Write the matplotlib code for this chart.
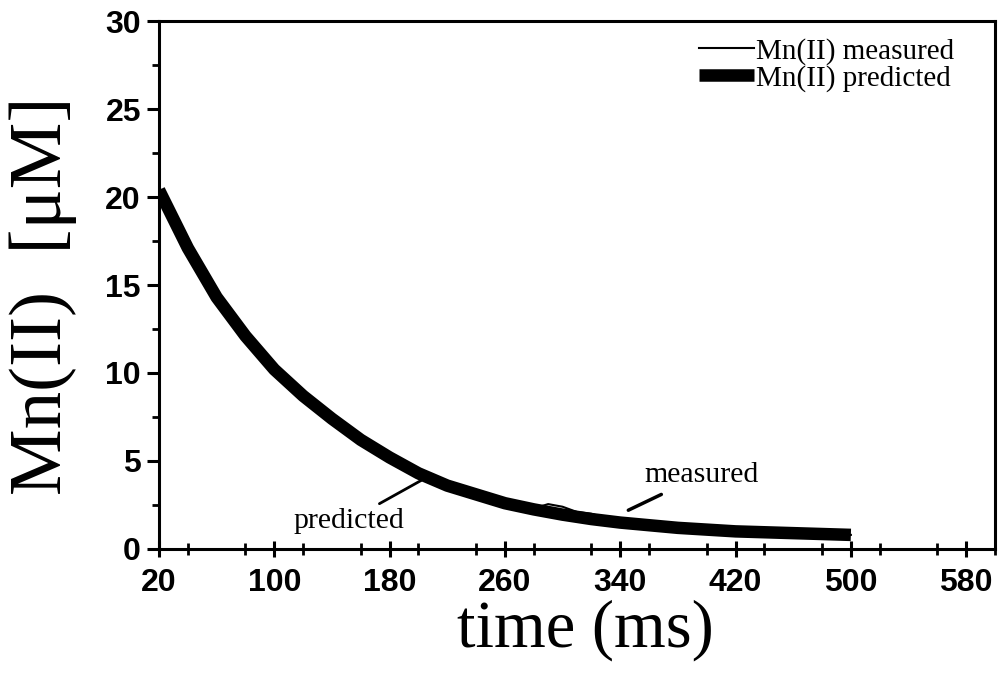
import matplotlib.pyplot as plt
from matplotlib.ticker import MultipleLocator

# predicted curve (every 20 ms)
t_pred = [20, 40, 60, 80, 100, 120, 140, 160, 180, 200, 220, 240, 260,
          280, 300, 320, 340, 360, 380, 400, 420, 440, 460, 480, 500]
mn_pred = [20.4, 17.1, 14.3, 12.1, 10.2, 8.7, 7.4, 6.2, 5.2, 4.3, 3.6, 3.1, 2.6,
           2.25, 1.95, 1.7, 1.5, 1.35, 1.2, 1.1, 1.0, 0.95, 0.9, 0.85, 0.8]

# measured curve (every 10 ms)
t_meas = [20, 30, 40, 50, 60, 70, 80, 90, 100, 110, 120, 130, 140, 150, 160,
          170, 180, 190, 200, 210, 220, 230, 240, 250, 260, 270, 280, 290, 300,
          310, 320, 330, 340, 350, 360, 370, 380, 390, 400, 410, 420, 430, 440,
          450, 460, 470, 480, 490, 500]
mn_meas = [20.6, 18.9, 17.2, 15.6, 14.4, 13.1, 12.1, 11.1, 10.3, 9.4, 8.7, 8.0,
           7.4, 6.8, 6.2, 5.7, 5.2, 5.0, 4.0, 3.8, 3.6, 3.3, 3.1, 2.85, 2.6,
           2.45, 2.3, 2.55, 2.4, 2.1, 2.0, 1.75, 1.6, 1.45, 1.35, 1.3, 1.2, 1.15,
           1.1, 1.0, 0.8, 1.0, 0.95, 0.9, 0.95, 1.1, 0.85, 0.8, 0.8]

x_ticks = [20, 100, 180, 260, 340, 420, 500, 580]
y_ticks = [0, 5, 10, 15, 20, 25, 30]

serif = "Liberation Serif"
sans = "Liberation Sans"

fig = plt.figure(figsize=(10, 6.74), dpi=100)
ax = fig.add_axes([0.159, 0.1855, 0.836, 0.7833])

ax.plot(t_meas, mn_meas, color="black", lw=1.5, label="Mn(II) measured", zorder=3)
ax.plot(t_pred, mn_pred, color="black", lw=9, label="Mn(II) predicted",
        solid_capstyle="butt", zorder=2)

ax.set_xlim(20, 600)
ax.set_ylim(0, 30)
ax.set_xticks(x_ticks)
ax.set_yticks(y_ticks)
ax.xaxis.set_minor_locator(MultipleLocator(40))
ax.yaxis.set_minor_locator(MultipleLocator(2.5))

for s in ax.spines.values():
    s.set_linewidth(2.2)

ax.tick_params(axis="y", which="major", direction="out", length=9, width=2.2, pad=4)
ax.tick_params(axis="y", which="minor", direction="out", length=5, width=2)
ax.tick_params(axis="x", which="major", direction="inout", length=12, width=2.2, pad=8)
ax.tick_params(axis="x", which="minor", direction="inout", length=8, width=2)

for lab in ax.get_xticklabels() + ax.get_yticklabels():
    lab.set_fontfamily(sans)
    lab.set_fontweight("bold")
    lab.set_fontsize(23)

ax.set_xlabel("time (ms)", fontfamily=serif, fontsize=48)
ax.xaxis.set_label_coords(0.51, -0.095)
ax.set_ylabel("Mn(II)  [\u03bcM]", fontfamily=serif, fontsize=54)
ax.yaxis.set_label_coords(-0.098, 0.48)

leg = ax.legend(loc="upper right", bbox_to_anchor=(0.965, 0.99), frameon=False,
                prop={"family": serif, "size": 21}, handlelength=1.9,
                handletextpad=0.05, labelspacing=0.0, borderaxespad=0)

ax.annotate("predicted", xy=(202, 3.9), xytext=(190, 1.6),
            fontfamily=serif, fontsize=21.5, ha="right", va="center",
            arrowprops=dict(arrowstyle="-", color="black", lw=2, shrinkA=2, shrinkB=0))
ax.annotate("measured", xy=(343, 2.1), xytext=(357, 4.2),
            fontfamily=serif, fontsize=21.5, ha="left", va="center",
            arrowprops=dict(arrowstyle="-", color="black", lw=2.5, shrinkA=6, shrinkB=3))

fig.savefig("out.png", dpi=100)
